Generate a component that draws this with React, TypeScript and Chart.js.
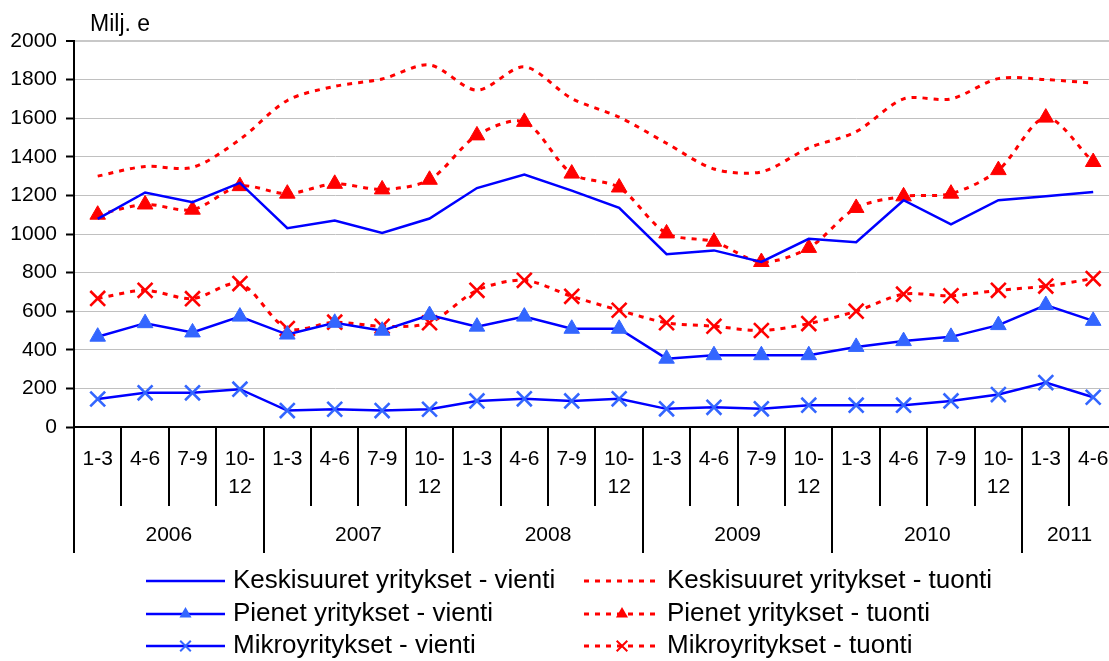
import React, { useEffect, useRef } from 'react';
import { Chart, registerables } from 'chart.js';

Chart.register(...registerables);

const quarterLabels = [
  '1-3', '4-6', '7-9', '10-12',
  '1-3', '4-6', '7-9', '10-12',
  '1-3', '4-6', '7-9', '10-12',
  '1-3', '4-6', '7-9', '10-12',
  '1-3', '4-6', '7-9', '10-12',
  '1-3', '4-6',
];
const years = ['2006', '2007', '2008', '2009', '2010', '2011'];
const quartersPerYear = [4, 4, 4, 4, 4, 2];
const yTicks = { min: 0, max: 2000, step: 200 };
const yUnit = 'Milj. e';

const keskiVienti = [1078, 1215, 1165, 1265, 1030, 1070, 1005, 1080, 1238, 1308, 1225, 1135, 895, 915, 855, 975, 957, 1175, 1050, 1175, 1195, 1218];
const keskiTuonti = [1300, 1350, 1345, 1490, 1692, 1765, 1803, 1876, 1745, 1866, 1702, 1606, 1470, 1337, 1322, 1446, 1530, 1700, 1700, 1805, 1800, 1782];
const pienetVienti = [468, 538, 490, 572, 479, 540, 499, 580, 520, 572, 509, 509, 354, 372, 372, 372, 415, 445, 467, 528, 632, 550];
const pienetTuonti = [1100, 1153, 1126, 1248, 1209, 1260, 1231, 1281, 1511, 1581, 1313, 1241, 1003, 960, 855, 928, 1135, 1195, 1209, 1331, 1603, 1373];
const mikroVienti = [145, 177, 177, 196, 85, 92, 85, 92, 135, 146, 135, 146, 94, 102, 94, 113, 113, 113, 135, 168, 230, 154];
const mikroTuonti = [666, 708, 665, 743, 510, 543, 522, 540, 708, 760, 677, 605, 540, 522, 500, 536, 600, 688, 680, 708, 730, 769];

const seriesLabels = [
  'Keskisuuret yritykset - vienti',
  'Keskisuuret yritykset - tuonti',
  'Pienet yritykset - vienti',
  'Pienet yritykset - tuonti',
  'Mikroyritykset - vienti',
  'Mikroyritykset - tuonti',
];

const BLUE = '#0000ff';
const BLUE_MARK = '#3366ff';
const RED = '#ff0000';
const FONT = '"Liberation Sans", Arial, sans-serif';
const DASH = [5, 6];

function drawMarker(ctx: CanvasRenderingContext2D, style: string, x: number, y: number, r: number, color: string) {
  ctx.save();
  ctx.setLineDash([]);
  if (style === 'triangle') {
    ctx.fillStyle = color;
    ctx.beginPath();
    ctx.moveTo(x, y - r);
    ctx.lineTo(x + r * 0.866, y + r * 0.5);
    ctx.lineTo(x - r * 0.866, y + r * 0.5);
    ctx.closePath();
    ctx.fill();
  } else if (style === 'crossRot') {
    ctx.strokeStyle = color;
    ctx.lineWidth = 2;
    const o = r * 0.7071;
    ctx.beginPath();
    ctx.moveTo(x - o, y - o);
    ctx.lineTo(x + o, y + o);
    ctx.moveTo(x - o, y + o);
    ctx.lineTo(x + o, y - o);
    ctx.stroke();
  }
  ctx.restore();
}

const customPlugin = {
  id: 'customAxisLegend',
  afterDraw(chart: any) {
    const ctx: CanvasRenderingContext2D = chart.ctx;
    const xs = chart.scales.x;
    const bottom = chart.chartArea.bottom;
    const step = xs.getPixelForValue(1) - xs.getPixelForValue(0);
    ctx.save();

    // unit label
    ctx.fillStyle = '#000';
    ctx.font = `23px ${FONT}`;
    ctx.textAlign = 'left';
    ctx.textBaseline = 'middle';
    ctx.fillText(yUnit, 90, 25);

    // year boundaries
    const yearStart = new Set<number>();
    let acc = 0;
    quartersPerYear.forEach((n) => { yearStart.add(acc); acc += n; });
    yearStart.add(acc);

    ctx.strokeStyle = '#000';
    ctx.lineWidth = 2;
    for (let i = 0; i <= quarterLabels.length; i++) {
      const bx = Math.round(xs.getPixelForValue(i) - step / 2);
      ctx.beginPath();
      ctx.moveTo(bx, bottom);
      ctx.lineTo(bx, yearStart.has(i) ? 553 : 506);
      ctx.stroke();
    }

    // quarter labels
    ctx.font = `21px ${FONT}`;
    ctx.textAlign = 'center';
    quarterLabels.forEach((lab, i) => {
      const cx = xs.getPixelForValue(i);
      if (lab.length > 3) {
        const k = lab.indexOf('-');
        ctx.fillText(lab.slice(0, k + 1), cx, 459);
        ctx.fillText(lab.slice(k + 1), cx, 487);
      } else {
        ctx.fillText(lab, cx, 459);
      }
    });

    // year labels
    acc = 0;
    years.forEach((yr, j) => {
      const a = xs.getPixelForValue(acc) - step / 2;
      const b = xs.getPixelForValue(acc + quartersPerYear[j]) - step / 2;
      ctx.fillText(yr, (a + b) / 2, 535);
      acc += quartersPerYear[j];
    });

    // legend
    const rows = [581, 614, 646];
    const cols = [
      { x0: 146, x1: 225, tx: 233 },
      { x0: 584, x1: 660, tx: 667 },
    ];
    ctx.font = `26px ${FONT}`;
    ctx.textAlign = 'left';
    chart.data.datasets.forEach((ds: any, i: number) => {
      const c = cols[i % 2];
      const y = rows[Math.floor(i / 2)];
      ctx.save();
      ctx.strokeStyle = ds.borderColor;
      ctx.lineWidth = ds.borderWidth;
      ctx.setLineDash(ds.borderDash || []);
      ctx.beginPath();
      ctx.moveTo(c.x0, y);
      ctx.lineTo(c.x1, y);
      ctx.stroke();
      ctx.restore();
      if (ds.pointRadius > 0) {
        drawMarker(ctx, ds.pointStyle, (c.x0 + c.x1) / 2, y, ds.pointStyle === 'triangle' ? 7 : 7.5, ds.pointBackgroundColor);
      }
      ctx.fillStyle = '#000';
      ctx.fillText(ds.label, c.tx, y);
    });

    ctx.restore();
  },
};

export default function App() {
  const ref = useRef<HTMLCanvasElement>(null);

  useEffect(() => {
    if (!ref.current) return;
    const redLine = { borderColor: RED, borderWidth: 3, borderDash: DASH, tension: 0.3 };
    const blueLine = { borderColor: BLUE, borderWidth: 2.5, tension: 0 };
    const chart = new Chart(ref.current, {
      type: 'line',
      data: {
        labels: quarterLabels,
        datasets: [
          { label: seriesLabels[0], data: keskiVienti, ...blueLine, pointRadius: 0, pointStyle: 'circle', pointBackgroundColor: BLUE },
          { label: seriesLabels[1], data: keskiTuonti, ...redLine, pointRadius: 0, pointStyle: 'circle', pointBackgroundColor: RED },
          { label: seriesLabels[2], data: pienetVienti, ...blueLine, pointRadius: 9, pointStyle: 'triangle', pointBackgroundColor: BLUE_MARK, pointBorderColor: BLUE_MARK, pointBorderWidth: 1 },
          { label: seriesLabels[3], data: pienetTuonti, ...redLine, pointRadius: 9, pointStyle: 'triangle', pointBackgroundColor: RED, pointBorderColor: RED, pointBorderWidth: 1 },
          { label: seriesLabels[4], data: mikroVienti, ...blueLine, pointRadius: 10.5, pointStyle: 'crossRot', pointBackgroundColor: BLUE_MARK, pointBorderColor: BLUE_MARK, pointBorderWidth: 2.6 },
          { label: seriesLabels[5], data: mikroTuonti, ...redLine, pointRadius: 10.5, pointStyle: 'crossRot', pointBackgroundColor: RED, pointBorderColor: RED, pointBorderWidth: 2.6 },
        ] as any,
      },
      options: {
        responsive: false,
        animation: false,
        devicePixelRatio: 1,
        layout: { padding: { top: 41, right: 9, left: 0, bottom: 0 } },
        plugins: { legend: { display: false }, tooltip: { enabled: false } },
        elements: { point: { hoverRadius: 0 } },
        scales: {
          x: {
            type: 'category',
            offset: true,
            ticks: { display: false },
            grid: { display: false },
            border: { display: true, color: '#000', width: 2 },
            afterFit: (s: any) => { s.height = 234; },
          },
          y: {
            min: yTicks.min,
            max: yTicks.max,
            ticks: {
              stepSize: yTicks.step,
              color: '#000',
              padding: 9,
              font: { family: FONT, size: 21 },
              callback: (v: any) => String(v),
            },
            grid: {
              color: (c: any) => (c.tick && c.tick.value === yTicks.max ? '#c8c8c8' : '#c0c0c0'),
              lineWidth: (c: any) => (c.tick && c.tick.value === yTicks.max ? 2 : 1),
              tickColor: '#000',
              tickLength: 8,
              tickWidth: 2,
            },
            border: { display: true, color: '#000', width: 2 },
            afterFit: (s: any) => { s.width = 74; },
          },
        },
      } as any,
      plugins: [customPlugin],
    });
    return () => chart.destroy();
  }, []);

  return (
    <div style={{ position: 'absolute', left: 0, top: 0, width: 1109, height: 661, overflow: 'hidden', background: '#fff' }}>
      <canvas ref={ref} width={1130} height={661} style={{ display: 'block', width: 1130, height: 661 }} />
    </div>
  );
}
